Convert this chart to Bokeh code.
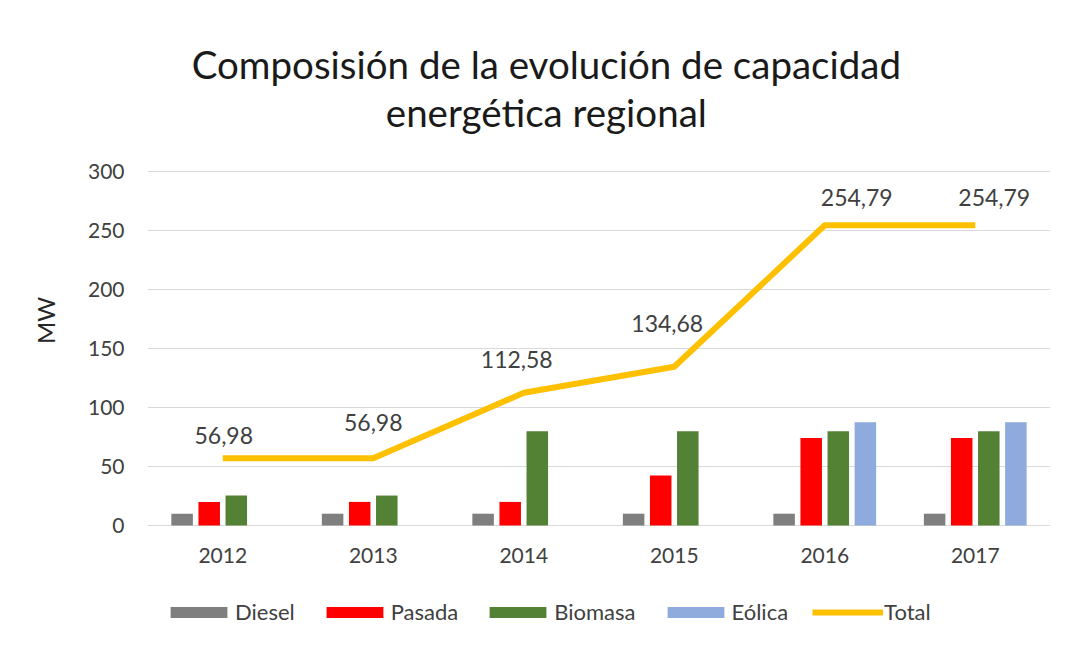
from bokeh.plotting import figure
from bokeh.models import (ColumnDataSource, FactorRange, Range1d, FixedTicker, Legend,
                          LegendItem, Label)
from bokeh.transform import dodge
from bokeh.core.properties import value
from bokeh.embed import file_html
from bokeh.resources import INLINE

# ---- data ----
years = ["2012", "2013", "2014", "2015", "2016", "2017"]
diesel = [10, 10, 10, 10, 10, 10]
pasada = [20, 20, 20, 42.4, 74.3, 74.3]
biomasa = [25.4, 25.4, 80, 80, 80, 80]
eolica = [0, 0, 0, 0, 87.5, 87.5]
total = [56.98, 56.98, 112.58, 134.68, 254.79, 254.79]
y_ticks = [0, 50, 100, 150, 200, 250, 300]
title_lines = ["Composisión de la evolución de capacidad", "energética regional"]

# label placement style (pixel nudges, as in the original chart)
label_dx = [1, 0, -7, -7, 32, 19]
label_dy = [-23, -36, -33, -43, -28, -28]

FONT = "Lato"
TXT = "#404040"

src = ColumnDataSource(dict(
    year=years, diesel=diesel, pasada=pasada, biomasa=biomasa, eolica=eolica,
    total=total, lbl=[f"{v:.2f}".replace(".", ",") for v in total],
    dx=label_dx, dy=label_dy,
))

# frame spans the full height; the value axis keeps 0..300 ticks only
p = figure(
    x_range=FactorRange(*years), y_range=Range1d(-97.6, 445.5),
    width=1062, height=640, output_backend="svg", toolbar_location=None,
    x_axis_location=None,
    min_border_left=147, min_border_right=12, min_border_top=0, min_border_bottom=0,
)
p.outline_line_color = None
p.background_fill_color = "white"
p.border_fill_color = "white"

# title (two centred lines)
for txt, yy in zip(title_lines, [392, 351]):
    p.add_layout(Label(x=2.65, y=yy, text=txt, text_align="center",
                       text_baseline="middle", text_font=FONT,
                       text_font_size="38.5px", text_color="#1a1a1a"))

w = 0.143
colors = ["#7f7f7f", "#ff0000", "#548235", "#8faadc"]
fields = ["diesel", "pasada", "biomasa", "eolica"]
names = ["Diesel", "Pasada", "Biomasa", "Eólica"]
offs = [-0.27, -0.09, 0.09, 0.27]
renderers = []
for f, c, o in zip(fields, colors, offs):
    r = p.vbar(x=dodge("year", o, range=p.x_range), top=f, width=w, source=src,
               fill_color=c, line_color=None)
    renderers.append(r)

rl = p.line(x="year", y="total", source=src, line_color="#ffc000", line_width=6,
            line_join="round")

p.text(x="year", y="total", text="lbl", source=src, x_offset="dx", y_offset="dy",
       text_align="center", text_baseline="middle", text_font=value(FONT),
       text_font_size="23px", text_color=TXT)

# category labels under the baseline
p.text(x="year", y=0, text="year", source=src, y_offset=30,
       text_align="center", text_baseline="middle", text_font=value(FONT),
       text_font_size="21px", text_color=TXT)

# value axis
p.yaxis.ticker = FixedTicker(ticks=y_ticks)
p.yaxis.axis_line_color = None
p.yaxis.major_tick_line_color = None
p.yaxis.minor_tick_line_color = None
p.yaxis.major_label_text_font = FONT
p.yaxis.major_label_text_font_size = "21px"
p.yaxis.major_label_text_color = TXT
p.yaxis.major_label_standoff = 17
p.yaxis.axis_label = "MW"
p.yaxis.axis_label_text_font = FONT
p.yaxis.axis_label_text_font_size = "24px"
p.yaxis.axis_label_text_font_style = "normal"
p.yaxis.axis_label_text_color = "#262626"
p.yaxis.axis_label_standoff = 25

p.xgrid.grid_line_color = None
p.ygrid.ticker = FixedTicker(ticks=y_ticks)
p.ygrid.grid_line_color = "#d9d9d9"
p.ygrid.grid_line_width = 1

items = [LegendItem(label=n, renderers=[r]) for n, r in zip(names, renderers)]
items.append(LegendItem(label="Total", renderers=[rl]))
legend = Legend(items=items, orientation="horizontal", location=(16, 15),
                border_line_color=None, background_fill_alpha=0,
                glyph_width=71, glyph_height=14, label_standoff=1, spacing=24,
                label_text_font=FONT, label_text_font_size="22px",
                label_text_color=TXT, padding=8, margin=0)
p.add_layout(legend, "center")

open("out.html", "w").write(file_html(p, INLINE))
